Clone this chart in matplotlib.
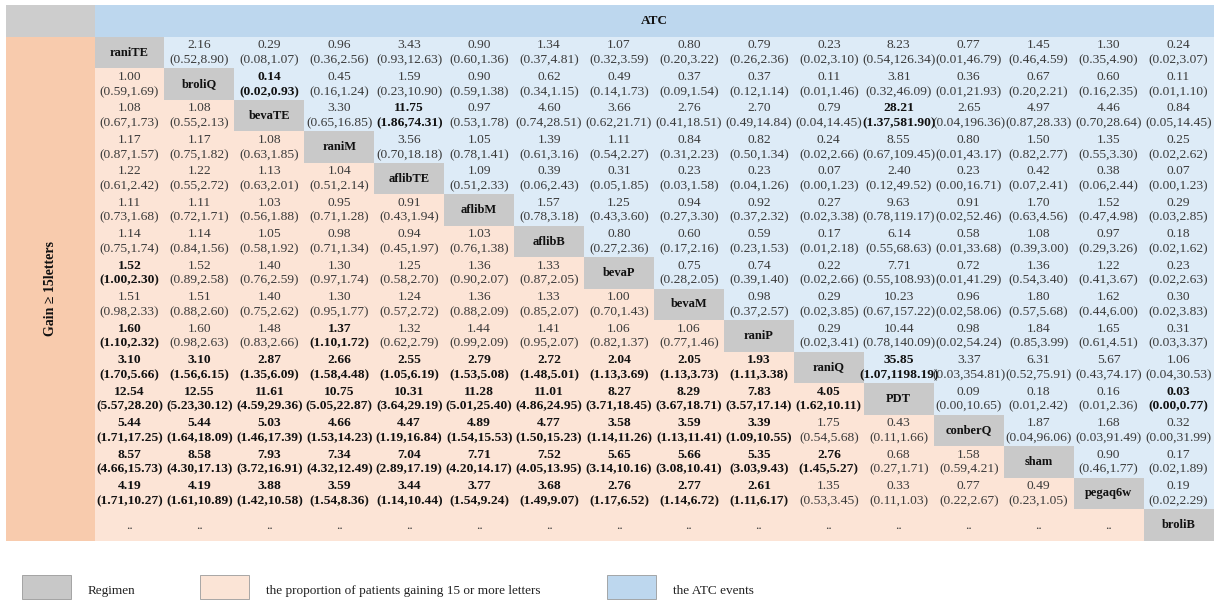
import matplotlib
matplotlib.use("Agg")
import matplotlib.pyplot as plt
from matplotlib.patches import Rectangle

# ---------------------------------------------------------------- data
regimens = ["raniTE", "broliQ", "bevaTE", "raniM", "aflibTE", "aflibM", "aflibB",
            "bevaP", "bevaM", "raniP", "raniQ", "PDT", "conberQ", "sham",
            "pegaq6w", "broliB"]

# ATC events (upper triangle): row i against columns i+1 .. n-1, (estimate, low, high)
atc = [
    [(2.16, 0.52, 8.90), (0.29, 0.08, 1.07), (0.96, 0.36, 2.56), (3.43, 0.93, 12.63),
     (0.90, 0.60, 1.36), (1.34, 0.37, 4.81), (1.07, 0.32, 3.59), (0.80, 0.20, 3.22),
     (0.79, 0.26, 2.36), (0.23, 0.02, 3.10), (8.23, 0.54, 126.34), (0.77, 0.01, 46.79),
     (1.45, 0.46, 4.59), (1.30, 0.35, 4.90), (0.24, 0.02, 3.07)],
    [(0.14, 0.02, 0.93), (0.45, 0.16, 1.24), (1.59, 0.23, 10.90), (0.90, 0.59, 1.38),
     (0.62, 0.34, 1.15), (0.49, 0.14, 1.73), (0.37, 0.09, 1.54), (0.37, 0.12, 1.14),
     (0.11, 0.01, 1.46), (3.81, 0.32, 46.09), (0.36, 0.01, 21.93), (0.67, 0.20, 2.21),
     (0.60, 0.16, 2.35), (0.11, 0.01, 1.10)],
    [(3.30, 0.65, 16.85), (11.75, 1.86, 74.31), (0.97, 0.53, 1.78), (4.60, 0.74, 28.51),
     (3.66, 0.62, 21.71), (2.76, 0.41, 18.51), (2.70, 0.49, 14.84), (0.79, 0.04, 14.45),
     (28.21, 1.37, 581.90), (2.65, 0.04, 196.36), (4.97, 0.87, 28.33), (4.46, 0.70, 28.64),
     (0.84, 0.05, 14.45)],
    [(3.56, 0.70, 18.18), (1.05, 0.78, 1.41), (1.39, 0.61, 3.16), (1.11, 0.54, 2.27),
     (0.84, 0.31, 2.23), (0.82, 0.50, 1.34), (0.24, 0.02, 2.66), (8.55, 0.67, 109.45),
     (0.80, 0.01, 43.17), (1.50, 0.82, 2.77), (1.35, 0.55, 3.30), (0.25, 0.02, 2.62)],
    [(1.09, 0.51, 2.33), (0.39, 0.06, 2.43), (0.31, 0.05, 1.85), (0.23, 0.03, 1.58),
     (0.23, 0.04, 1.26), (0.07, 0.00, 1.23), (2.40, 0.12, 49.52), (0.23, 0.00, 16.71),
     (0.42, 0.07, 2.41), (0.38, 0.06, 2.44), (0.07, 0.00, 1.23)],
    [(1.57, 0.78, 3.18), (1.25, 0.43, 3.60), (0.94, 0.27, 3.30), (0.92, 0.37, 2.32),
     (0.27, 0.02, 3.38), (9.63, 0.78, 119.17), (0.91, 0.02, 52.46), (1.70, 0.63, 4.56),
     (1.52, 0.47, 4.98), (0.29, 0.03, 2.85)],
    [(0.80, 0.27, 2.36), (0.60, 0.17, 2.16), (0.59, 0.23, 1.53), (0.17, 0.01, 2.18),
     (6.14, 0.55, 68.63), (0.58, 0.01, 33.68), (1.08, 0.39, 3.00), (0.97, 0.29, 3.26),
     (0.18, 0.02, 1.62)],
    [(0.75, 0.28, 2.05), (0.74, 0.39, 1.40), (0.22, 0.02, 2.66), (7.71, 0.55, 108.93),
     (0.72, 0.01, 41.29), (1.36, 0.54, 3.40), (1.22, 0.41, 3.67), (0.23, 0.02, 2.63)],
    [(0.98, 0.37, 2.57), (0.29, 0.02, 3.85), (10.23, 0.67, 157.22), (0.96, 0.02, 58.06),
     (1.80, 0.57, 5.68), (1.62, 0.44, 6.00), (0.30, 0.02, 3.83)],
    [(0.29, 0.02, 3.41), (10.44, 0.78, 140.09), (0.98, 0.02, 54.24), (1.84, 0.85, 3.99),
     (1.65, 0.61, 4.51), (0.31, 0.03, 3.37)],
    [(35.85, 1.07, 1198.19), (3.37, 0.03, 354.81), (6.31, 0.52, 75.91), (5.67, 0.43, 74.17),
     (1.06, 0.04, 30.53)],
    [(0.09, 0.00, 10.65), (0.18, 0.01, 2.42), (0.16, 0.01, 2.36), (0.03, 0.00, 0.77)],
    [(1.87, 0.04, 96.06), (1.68, 0.03, 91.49), (0.32, 0.00, 31.99)],
    [(0.90, 0.46, 1.77), (0.17, 0.02, 1.89)],
    [(0.19, 0.02, 2.29)],
    [],
]

# Gain >= 15 letters (lower triangle): row i against columns 0 .. i-1
gain = [
    [],
    [(1.00, 0.59, 1.69)],
    [(1.08, 0.67, 1.73), (1.08, 0.55, 2.13)],
    [(1.17, 0.87, 1.57), (1.17, 0.75, 1.82), (1.08, 0.63, 1.85)],
    [(1.22, 0.61, 2.42), (1.22, 0.55, 2.72), (1.13, 0.63, 2.01), (1.04, 0.51, 2.14)],
    [(1.11, 0.73, 1.68), (1.11, 0.72, 1.71), (1.03, 0.56, 1.88), (0.95, 0.71, 1.28),
     (0.91, 0.43, 1.94)],
    [(1.14, 0.75, 1.74), (1.14, 0.84, 1.56), (1.05, 0.58, 1.92), (0.98, 0.71, 1.34),
     (0.94, 0.45, 1.97), (1.03, 0.76, 1.38)],
    [(1.52, 1.00, 2.30), (1.52, 0.89, 2.58), (1.40, 0.76, 2.59), (1.30, 0.97, 1.74),
     (1.25, 0.58, 2.70), (1.36, 0.90, 2.07), (1.33, 0.87, 2.05)],
    [(1.51, 0.98, 2.33), (1.51, 0.88, 2.60), (1.40, 0.75, 2.62), (1.30, 0.95, 1.77),
     (1.24, 0.57, 2.72), (1.36, 0.88, 2.09), (1.33, 0.85, 2.07), (1.00, 0.70, 1.43)],
    [(1.60, 1.10, 2.32), (1.60, 0.98, 2.63), (1.48, 0.83, 2.66), (1.37, 1.10, 1.72),
     (1.32, 0.62, 2.79), (1.44, 0.99, 2.09), (1.41, 0.95, 2.07), (1.06, 0.82, 1.37),
     (1.06, 0.77, 1.46)],
    [(3.10, 1.70, 5.66), (3.10, 1.56, 6.15), (2.87, 1.35, 6.09), (2.66, 1.58, 4.48),
     (2.55, 1.05, 6.19), (2.79, 1.53, 5.08), (2.72, 1.48, 5.01), (2.04, 1.13, 3.69),
     (2.05, 1.13, 3.73), (1.93, 1.11, 3.38)],
    [(12.54, 5.57, 28.20), (12.55, 5.23, 30.12), (11.61, 4.59, 29.36), (10.75, 5.05, 22.87),
     (10.31, 3.64, 29.19), (11.28, 5.01, 25.40), (11.01, 4.86, 24.95), (8.27, 3.71, 18.45),
     (8.29, 3.67, 18.71), (7.83, 3.57, 17.14), (4.05, 1.62, 10.11)],
    [(5.44, 1.71, 17.25), (5.44, 1.64, 18.09), (5.03, 1.46, 17.39), (4.66, 1.53, 14.23),
     (4.47, 1.19, 16.84), (4.89, 1.54, 15.53), (4.77, 1.50, 15.23), (3.58, 1.14, 11.26),
     (3.59, 1.13, 11.41), (3.39, 1.09, 10.55), (1.75, 0.54, 5.68), (0.43, 0.11, 1.66)],
    [(8.57, 4.66, 15.73), (8.58, 4.30, 17.13), (7.93, 3.72, 16.91), (7.34, 4.32, 12.49),
     (7.04, 2.89, 17.19), (7.71, 4.20, 14.17), (7.52, 4.05, 13.95), (5.65, 3.14, 10.16),
     (5.66, 3.08, 10.41), (5.35, 3.03, 9.43), (2.76, 1.45, 5.27), (0.68, 0.27, 1.71),
     (1.58, 0.59, 4.21)],
    [(4.19, 1.71, 10.27), (4.19, 1.61, 10.89), (3.88, 1.42, 10.58), (3.59, 1.54, 8.36),
     (3.44, 1.14, 10.44), (3.77, 1.54, 9.24), (3.68, 1.49, 9.07), (2.76, 1.17, 6.52),
     (2.77, 1.14, 6.72), (2.61, 1.11, 6.17), (1.35, 0.53, 3.45), (0.33, 0.11, 1.03),
     (0.77, 0.22, 2.67), (0.49, 0.23, 1.05)],
    [None] * 15,
]

legend_labels = ["Regimen", "the proportion of patients gaining 15 or more letters",
                 "the ATC events"]

# ---------------------------------------------------------------- style
W, H = 1223, 601
SERIF = ["Liberation Serif", "DejaVu Serif"]
C_DIAG = "#c9c9c9"
C_LOW = "#fce4d6"
C_UP = "#ddebf7"
C_HEAD = "#bdd7ee"
C_SIDE = "#f8cbad"
C_TEXT = "#3a3a3a"
C_BOLD = "#111111"
FS = 9.7

fig = plt.figure(figsize=(W / 100, H / 100), dpi=100)
ax = fig.add_axes([0, 0, 1, 1])
ax.set_xlim(0, W)
ax.set_ylim(H, 0)
ax.axis("off")

n = len(regimens)
x0, x1 = 94.5, 1213.5
y0, y1 = 37.0, 540.5
cw = (x1 - x0) / n
rh = (y1 - y0) / n
side_x = 5.5
top_y = 5.0


def rect(x, y, w, h, fc, ec="none", lw=0):
    ax.add_patch(Rectangle((x, y), w, h, facecolor=fc, edgecolor=ec, linewidth=lw))


# header bands
rect(side_x, top_y, x0 - side_x, y0 - top_y, "#cdcdcd")
rect(x0, top_y, x1 - x0, y0 - top_y, C_HEAD)
rect(side_x, y0, x0 - side_x, y1 - y0, C_SIDE)
ax.text((x0 + x1) / 2, (top_y + y0) / 2, "ATC", ha="center", va="center",
        fontsize=9.5, fontweight="bold", family=SERIF, color=C_BOLD)
ax.text((side_x + x0) / 2, (y0 + y1) / 2, "Gain \u2265 15letters", ha="center",
        va="center", rotation=90, fontsize=10, fontweight="bold", family=SERIF,
        color=C_BOLD)


def cell_text(cx, cy, item):
    if item is None:
        ax.text(cx, cy + 1, "..", ha="center", va="center", fontsize=FS,
                family=SERIF, color=C_TEXT)
        return
    est, lo, hi = item
    strong = lo >= 1.0 or hi < 1.0
    kw = dict(ha="center", va="center", fontsize=FS, family=SERIF,
              fontweight="bold" if strong else "normal",
              color=C_BOLD if strong else C_TEXT)
    ax.text(cx, cy - 7.3, f"{est:.2f}", **kw)
    ax.text(cx, cy + 7.7, f"({lo:.2f},{hi:.2f})", **kw)


# cell backgrounds
for i in range(n):
    for j in range(n):
        x = x0 + j * cw
        y = y0 + i * rh
        if i == j:
            fc = C_DIAG
        elif j > i:
            fc = C_UP
        else:
            fc = C_LOW
        rect(x, y, cw + 0.3, rh + 0.3, fc)

# cell texts
for i in range(n):
    cy = y0 + (i + 0.5) * rh
    ax.text(x0 + (i + 0.5) * cw, cy, regimens[i], ha="center", va="center",
            fontsize=9, fontweight="bold", family=SERIF, color=C_BOLD)
    for k, item in enumerate(atc[i]):
        j = i + 1 + k
        cell_text(x0 + (j + 0.5) * cw, cy, item)
    for j, item in enumerate(gain[i]):
        cell_text(x0 + (j + 0.5) * cw, cy, item)

# legend
legend_colors = ["#c8c8c8", "#fbe4d6", "#bdd7ee"]
legend_x = [22, 200, 607]
for lx, fc, lab in zip(legend_x, legend_colors, legend_labels):
    rect(lx, 575, 49, 24, fc, ec="#9a9a9a", lw=0.6)
    ax.text(lx + 66, 591, lab, ha="left", va="center", fontsize=9.5,
            family=SERIF, color="#222222")

fig.savefig("out.png", dpi=100)
